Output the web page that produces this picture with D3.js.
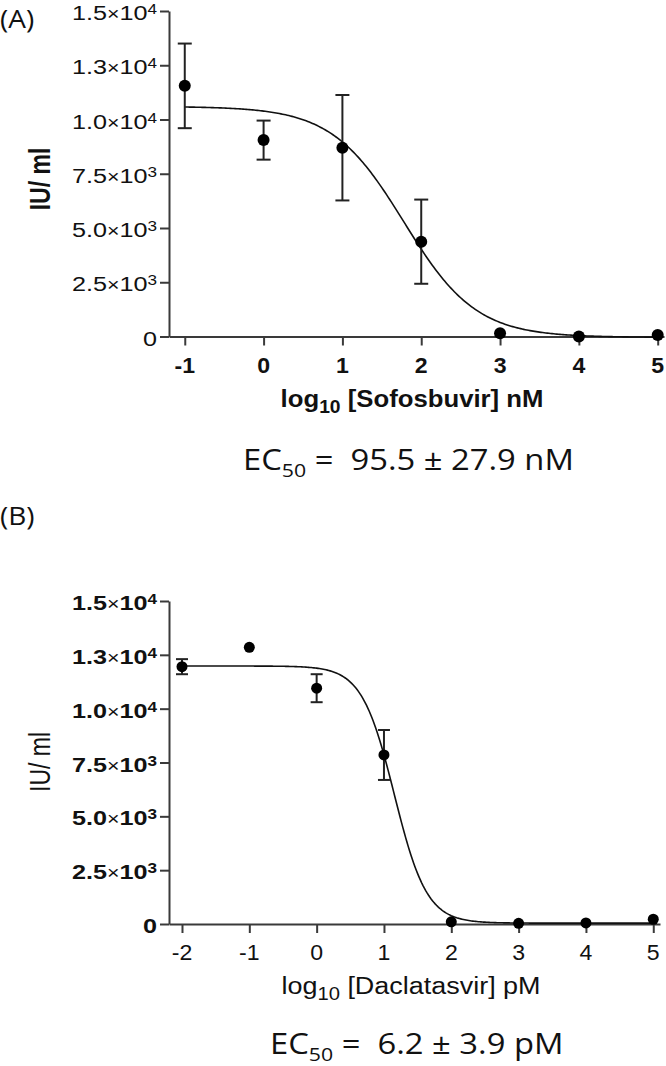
<!DOCTYPE html>
<html>
<head>
<meta charset="utf-8">
<script src="https://cdn.jsdelivr.net/npm/d3@7"></script>
<style>
  body { margin: 0; background: #fff; }
</style>
</head>
<body>
<svg id="chart" width="666" height="1066"></svg>
<script>
// (A) sofosbuvir, log10 nM
var doseA = [-1, 0, 1, 2, 3, 4, 5];
var meanA = [11550, 9050, 8700, 4370, 150, 0, 70];
var semA  = [1950, 900, 2430, 1940, 0, 0, 0];
var fitA  = [10600, -40, 1.78, 0.95];  // top, bottom, logEC50, hill

// (B) daclatasvir, log10 pM
var doseB = [-2, -1, 0, 1, 2, 3, 4, 5];
var meanB = [11950, 12850, 10950, 7850, 100, 30, 50, 220];
var semB  = [350, 0, 650, 1160, 0, 0, 0, 0];
var fitB  = [11980, 40, 1.154, 1.8];

// y tick labels (mantissa x 10^exp)
var yTicks = [0, 2500, 5000, 7500, 10000, 12500, 15000];
var yMant  = ["0", "2.5", "5.0", "7.5", "1.0", "1.3", "1.5"];
var yExp   = ["", "3", "3", "3", "4", "4", "4"];
var xTicksA = [-1, 0, 1, 2, 3, 4, 5];
var xTicksB = [-2, -1, 0, 1, 2, 3, 4, 5];

var svg = d3.select("#chart");
var SANS = "'Liberation Sans', Arial, sans-serif";
var CAL = "'Open Sans', sans-serif";

// text with sub/sup parts, stretched horizontally by sx
function label(parent, x, y, parts, o) {
  var t = parent.append("text")
    .attr("transform", o.transform || ("translate(" + x + "," + y + ") scale(" + (o.sx || 1) + ",1)"))
    .attr("text-anchor", o.anchor || "start")
    .attr("xml:space", "preserve")
    .style("white-space", "pre")
    .style("font-family", o.font || SANS)
    .style("font-size", o.size + "px")
    .style("font-weight", o.weight || "normal")
    .attr("fill", "#111");
  var shift = 0;
  parts.forEach(function(p) {
    var s = t.append("tspan").text(p[0]);
    var want = 0;
    if (p[1] == "sub") { want = o.subDy; s.style("font-size", (o.size * o.subScale) + "px"); }
    if (p[1] == "sup") { want = o.supDy; s.style("font-size", (o.size * o.supScale) + "px"); }
    if (p[1] == "x") { s.style("font-size", (o.size * 0.85) + "px").style("font-weight", "normal"); }
    if (want - shift != 0) s.attr("dy", want - shift);
    shift = want;
  });
  return t;
}

function panel(p) {
  var x = d3.scaleLinear().domain(p.xDom).range([169, p.right]);
  var y = d3.scaleLinear().domain([0, 15000]).range([p.y0, p.y1]);
  var g = svg.append("g");

  // axes
  g.append("g").attr("transform", "translate(169,0)")
    .call(d3.axisLeft(y).tickValues(yTicks).tickSize(9).tickSizeOuter(0).tickFormat(""));
  g.append("g").attr("transform", "translate(0," + p.y0 + ")")
    .call(d3.axisBottom(x).tickValues(p.xTicks).tickSize(9).tickSizeOuter(0).tickFormat(""));
  g.selectAll(".domain, .tick line").attr("stroke", "#3a3a3a").attr("stroke-width", 2);

  // y tick labels
  yTicks.forEach(function(v, i) {
    var parts = [[yMant[i], ""]];
    if (yExp[i]) parts = [[yMant[i], ""], ["\u00d7", "x"], ["10", ""], [yExp[i], "sup"]];
    label(g, 157, y(v) + 9, parts,
      { anchor: "end", size: 21, sx: 1.2, weight: p.yTickWeight, supDy: -6, supScale: 0.68 });
  });

  // x tick labels
  p.xTicks.forEach(function(v) {
    label(g, x(v), p.y0 + 36, [[String(v), ""]],
      { anchor: "middle", size: 22, sx: 1.05, weight: p.xTickWeight });
  });

  // axis titles
  label(g, p.titleX, p.y0 + 70, [["log", ""], ["10", "sub"], [" [" + p.drug + "] " + p.unit, ""]],
    { anchor: "middle", size: 24.5, sx: p.titleSx, weight: p.titleWeight, subDy: 6, subScale: 0.75 });
  label(g, 0, 0, [["IU/ ml", ""]],
    { anchor: "middle", size: 23, weight: p.titleWeight,
      transform: "translate(50," + p.yLabelY + ") scale(1.3,1) rotate(-90)" });

  // fitted curve
  var f = p.fit;
  var xs = d3.range(p.dose[0], p.dose[p.dose.length - 1] + 0.001, 0.02);
  var line = d3.line()
    .x(function(d) { return x(d); })
    .y(function(d) { return y(f[1] + (f[0] - f[1]) / (1 + Math.pow(10, (d - f[2]) * f[3]))); });
  g.append("path").datum(xs).attr("d", line)
    .attr("fill", "none").attr("stroke", "#111").attr("stroke-width", 1.6);

  // error bars + points
  var eb = g.append("g").attr("stroke", "#222").attr("stroke-width", 2);
  p.dose.forEach(function(d, i) {
    if (p.sem[i] > 0) {
      var top = y(p.mean[i] + p.sem[i]), bot = y(p.mean[i] - p.sem[i]);
      eb.append("line").attr("x1", x(d)).attr("x2", x(d)).attr("y1", top).attr("y2", bot);
      eb.append("line").attr("x1", x(d) - p.cap).attr("x2", x(d) + p.cap).attr("y1", top).attr("y2", top);
      eb.append("line").attr("x1", x(d) - p.cap).attr("x2", x(d) + p.cap).attr("y1", bot).attr("y2", bot);
    }
  });
  g.selectAll("circle.pt").data(p.dose).enter().append("circle")
    .attr("class", "pt")
    .attr("cx", function(d) { return x(d); })
    .attr("cy", function(d, i) { return y(p.mean[i]); })
    .attr("r", p.r).attr("fill", "#000");

  // EC50 line and panel letter
  label(svg, p.ecX, p.ecY, [["EC", ""], ["50", "sub"], [" =  " + p.ec50, ""]],
    { font: CAL, size: 29, sx: 1.13, subDy: 7, subScale: 0.65 });
  label(svg, 0, p.letterY, [[p.letter, ""]], { font: CAL, size: 25, sx: 1.12 });
}

panel({
  letter: "(A)", letterY: 28, drug: "Sofosbuvir", unit: "nM",
  xDom: [-1.2, 5.08], right: 664, y0: 336.5, y1: 11, xTicks: xTicksA,
  dose: doseA, mean: meanA, sem: semA, fit: fitA, cap: 7, r: 6,
  titleX: 412, titleSx: 1.05, yLabelY: 179,
  yTickWeight: "normal", xTickWeight: "bold", titleWeight: "bold",
  ec50: "95.5 \u00b1 27.9 nM", ecX: 243, ecY: 470
});

panel({
  letter: "(B)", letterY: 525, drug: "Daclatasvir", unit: "pM",
  xDom: [-2.193, 5.1], right: 660, y0: 924, y1: 601, xTicks: xTicksB,
  dose: doseB, mean: meanB, sem: semB, fit: fitB, cap: 6, r: 5.5,
  titleX: 411, titleSx: 1.1, yLabelY: 762,
  yTickWeight: "bold", xTickWeight: "normal", titleWeight: "normal",
  ec50: "6.2 \u00b1 3.9 pM", ecX: 270, ecY: 1054
});
</script>
</body>
</html>
